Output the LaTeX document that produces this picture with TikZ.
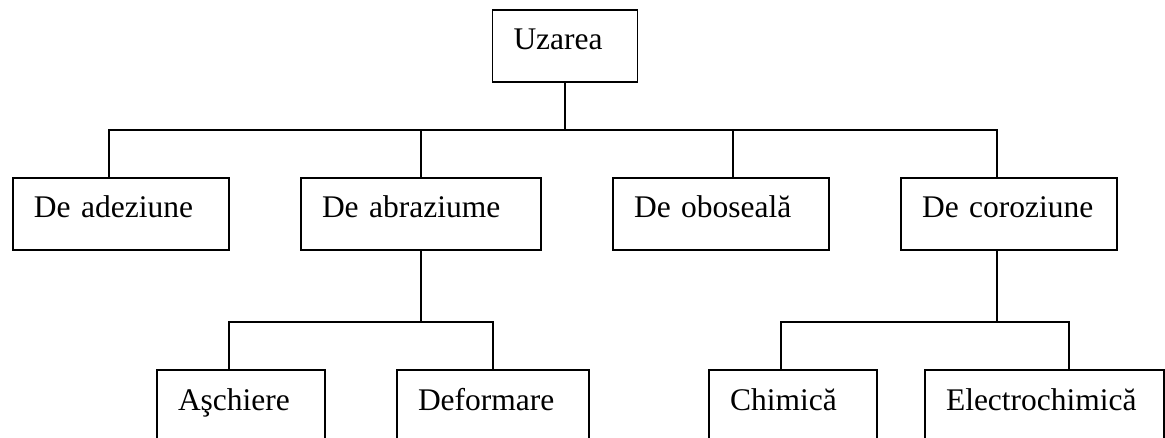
\documentclass[tikz,border=0pt]{standalone}
\usepackage{fontspec}
\setmainfont{Liberation Serif}

\begin{document}
\begin{tikzpicture}[x=1pt,y=-1pt,line width=1.5pt,block/.style={draw,rectangle,inner xsep=21pt,inner ysep=0pt,text height=40pt,text depth=32pt,align=left,font=\fontsize{31.5}{36}\selectfont}]
  \useasboundingbox (0,0) rectangle (1165,438);
  \node[block,text width=103pt] (uz) at (565,46) {Uzarea};
  \node[block,text width=174pt] (ad) at (121,214) {De adeziune};
  \node[block,text width=198pt] (ab) at (421,214) {De abraziume};
  \node[block,text width=174pt] (ob) at (721,214) {De oboseală};
  \node[block,text width=174pt] (co) at (1009,214) {De coroziune};
  \node[block,text width=126pt] (as) at (241,406) {Aşchiere};
  \node[block,text width=150pt] (de) at (493,406) {Deformare};
  \node[block,text width=126pt] (ch) at (793,406) {Chimică};
  \node[block,text width=197pt] (el) at (1044.5,406) {Electrochimică};
  \coordinate (bus) at (0,130);
  \coordinate (bus2) at (0,322);
  \draw (uz.south) -- (uz.south |- bus);
  \draw ([xshift=-12pt]ad.north) |- ([xshift=-12pt]co.north |- bus) -- ([xshift=-12pt]co.north);
  \draw (ab.north) -- (ab.north |- bus);
  \draw ([xshift=12pt]ob.north) -- ([xshift=12pt]ob.north |- bus);
  \draw (ab.south) -- (ab.south |- bus2);
  \draw ([xshift=-12pt]as.north) |- (de.north |- bus2) -- (de.north);
  \draw ([xshift=-12pt]co.south) -- ([xshift=-12pt]co.south |- bus2);
  \draw ([xshift=-12pt]ch.north) |- ([xshift=24.5pt]el.north |- bus2) -- ([xshift=24.5pt]el.north);
\end{tikzpicture}
\end{document}
